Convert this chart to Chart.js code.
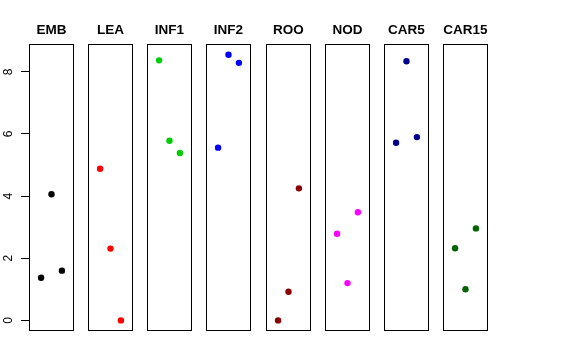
<!DOCTYPE html>
<html>
<head>
<meta charset="utf-8">
<script src="https://cdn.jsdelivr.net/npm/chart.js@4"></script>
<style>
  body { margin: 0; background: #fff; }
  #wrap { position: relative; width: 576px; height: 360px; overflow: hidden; }
  #wrap canvas { position: absolute; top: 0; }
</style>
</head>
<body>
<div id="wrap"></div>
<script>
// группы и значения (по три точки на панель, x = 1, 2, 3)
const groups = ['EMB', 'LEA', 'INF1', 'INF2', 'ROO', 'NOD', 'CAR5', 'CAR15'];
const colors = ['#000000', '#FF0000', '#00CD00', '#0000FF', '#8B0000', '#FF00FF', '#00008B', '#006400'];
const positions = [1, 2, 3];
const EMB = [1.37, 4.06, 1.60];
const LEA = [4.88, 2.31, 0.00];
const INF1 = [8.37, 5.78, 5.39];
const INF2 = [5.56, 8.55, 8.29];
const ROO = [0.00, 0.92, 4.25];
const NOD = [2.79, 1.20, 3.48];
const CAR5 = [5.72, 8.34, 5.90];
const CAR15 = [2.32, 1.00, 2.96];
const values = [EMB, LEA, INF1, INF2, ROO, NOD, CAR5, CAR15];
const yTicks = [0, 2, 4, 6, 8];

const yMin = -0.342, yMax = 8.89;
const panelLeft = [29, 88, 147, 206, 266, 325, 384, 443];
const panelW = 45;
const axisPad = 21; // место под подписи оси у первой панели
const font = "'Liberation Sans', Arial, Helvetica, sans-serif";

// рамка вокруг области графика
const boxPlugin = {
    id: 'box',
    afterDraw(chart) {
        const a = chart.chartArea;
        const c = chart.ctx;
        c.save();
        c.strokeStyle = '#000';
        c.lineWidth = 1;
        c.strokeRect(Math.round(a.left) + 0.5, Math.round(a.top) + 0.5,
            Math.round(a.right - a.left) - 1, Math.round(a.bottom - a.top) - 1);
        c.restore();
    }
};

// повернутые подписи делений оси Y (как в R)
const rotLabels = {
    id: 'rotLabels',
    afterDraw(chart) {
        const s = chart.scales.y;
        const c = chart.ctx;
        c.save();
        c.fillStyle = '#000';
        c.font = '12px ' + font;
        c.textAlign = 'center';
        c.textBaseline = 'alphabetic';
        s.ticks.forEach(t => {
            const y = s.getPixelForValue(t.value);
            c.save();
            c.translate(11.7, y);
            c.rotate(-Math.PI / 2);
            c.fillText(String(t.value), 0, 0);
            c.restore();
        });
        c.restore();
    }
};

const wrap = document.getElementById('wrap');

groups.forEach((name, i) => {
    const first = i === 0;
    const cv = document.createElement('canvas');
    const w = first ? panelW + axisPad + 8 : panelW;
    cv.width = w;
    cv.height = 360;
    cv.style.left = (first ? panelLeft[0] - axisPad - 8 : panelLeft[i]) + 'px';
    cv.style.width = w + 'px';
    cv.style.height = '360px';
    wrap.appendChild(cv);

    new Chart(cv.getContext('2d'), {
        type: 'scatter',
        data: {
            datasets: [{
                data: positions.map((x, k) => ({ x: x, y: values[i][k] })),
                backgroundColor: colors[i],
                borderColor: colors[i],
                pointRadius: 3.2,
                pointBorderWidth: 0,
                pointHoverRadius: 3.2
            }]
        },
        options: {
            responsive: false,
            animation: false,
            events: [],
            layout: { autoPadding: false, padding: { top: 22, bottom: 29, left: first ? axisPad : 0, right: 0 } },
            plugins: {
                legend: { display: false },
                tooltip: { enabled: false },
                title: {
                    display: true,
                    text: name,
                    fullSize: false,
                    color: '#000',
                    font: { family: font, size: 13.5, weight: 'bold' },
                    padding: { top: 0, bottom: 6 }
                }
            },
            scales: {
                x: { type: 'linear', min: -0.16, max: 4.16, display: false },
                y: {
                    type: 'linear',
                    min: yMin,
                    max: yMax,
                    display: first,
                    position: 'left',
                    afterBuildTicks: s => { s.ticks = yTicks.map(v => ({ value: v })); },
                    afterFit: s => { s.width = first ? 8 : 0; },
                    ticks: { display: false, includeBounds: false },
                    grid: { drawOnChartArea: false, drawTicks: true, tickLength: 8, color: '#000', lineWidth: 1 },
                    border: { display: false }
                }
            }
        },
        plugins: first ? [boxPlugin, rotLabels] : [boxPlugin]
    });
});
</script>
</body>
</html>
